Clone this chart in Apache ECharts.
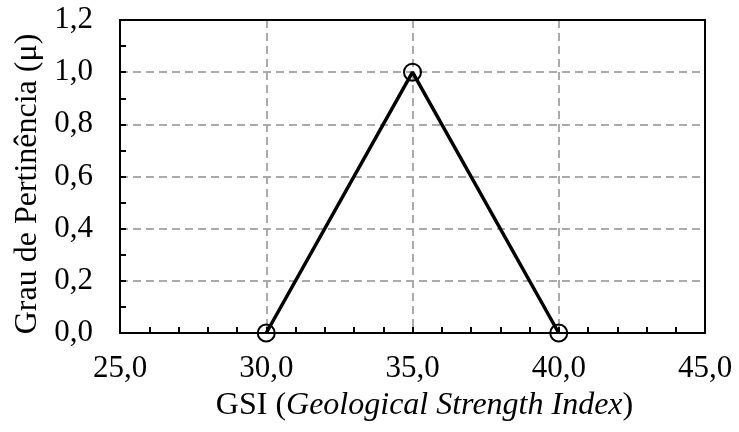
<!DOCTYPE html>
<html><head><meta charset="utf-8">
<script src="https://cdn.jsdelivr.net/npm/echarts@6/dist/echarts.min.js"></script>
<style>html,body{margin:0;padding:0;background:#fff}#c{width:739px;height:432px}</style>
</head><body><div id="c"></div>
<script>
const gsi = [30, 35, 40];
const mu = [0, 1, 0];
const xTicks = [25, 30, 35, 40, 45];
const yTicks = [0, 0.2, 0.4, 0.6, 0.8, 1.0, 1.2];

const chart = echarts.init(document.getElementById('c'), null, {renderer: 'canvas'});
const font = '"Liberation Serif", "Times New Roman", serif';
const fmt = v => v.toFixed(1).replace('.', ',');
const data = gsi.map((x, i) => [x, mu[i]]);
const grid = {left: 120, right: 34, top: 20, bottom: 99};
const edge = {show: true, onZero: false, lineStyle: {color: '#000', width: 2}};
const split = {show: true, showMinLine: false, showMaxLine: false, lineStyle: {color: '#aaa', type: [8, 5], width: 2}};
chart.setOption({
  animation: false,
  backgroundColor: '#fff',
  grid: grid,
  xAxis: [{
    type: 'value', min: xTicks[0], max: xTicks[xTicks.length-1], interval: 5,
    name: 'GSI ({i|Geological Strength Index})', nameLocation: 'middle', nameGap: 57,
    nameTextStyle: {fontFamily: font, fontSize: 32, color: '#000', padding: [0, 0, 0, 24], rich: {i: {fontFamily: font, fontSize: 32, fontStyle: 'italic', color: '#000'}}},
    axisLine: edge,
    axisTick: {show: true, inside: true, length: 6, lineStyle: {color: '#000', width: 2}},
    minorTick: {show: true, splitNumber: 5, length: 6, lineStyle: {color: '#000', width: 2}},
    axisLabel: {fontFamily: font, fontSize: 31, color: '#000', margin: 20, formatter: fmt},
    splitLine: split, z: 3
  }, {
    type: 'value', position: 'top', min: xTicks[0], max: xTicks[xTicks.length-1], interval: 5,
    axisLine: edge, axisTick: {show: false}, axisLabel: {show: false}, splitLine: {show: false}, z: 3
  }],
  yAxis: [{
    type: 'value', min: yTicks[0], max: yTicks[yTicks.length-1], interval: 0.2,
    name: 'Grau de Pertinência (μ)', nameLocation: 'middle', nameGap: 76, nameRotate: 90,
    nameTextStyle: {fontFamily: font, fontSize: 32, color: '#000', padding: [0, 15, 0, 0]},
    axisLine: edge,
    axisTick: {show: true, inside: true, length: 6, lineStyle: {color: '#000', width: 2}},
    minorTick: {show: true, splitNumber: 2, length: 6, lineStyle: {color: '#000', width: 2}},
    axisLabel: {fontFamily: font, fontSize: 31, color: '#000', margin: 27, formatter: fmt},
    splitLine: split, z: 3
  }, {
    type: 'value', position: 'right', min: yTicks[0], max: yTicks[yTicks.length-1], interval: 0.2,
    axisLine: edge, axisTick: {show: false}, axisLabel: {show: false}, splitLine: {show: false}, z: 3
  }],
  series: [{
    type: 'line', data: data,
    lineStyle: {color: '#000', width: 3.5},
    symbol: 'circle', symbolSize: 17,
    itemStyle: {color: 'transparent', borderColor: '#000', borderWidth: 2},
    z: 5
  }]
});
</script></body></html>
